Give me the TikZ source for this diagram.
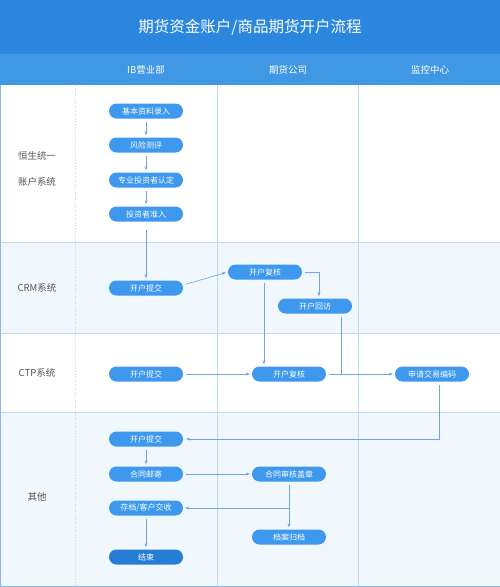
\documentclass[tikz,border=0pt]{standalone}
\usepackage{fontspec}
\setmainfont{Noto Sans CJK SC}
\usepackage{tikz}
\usetikzlibrary{arrows.meta,positioning,calc}
\definecolor{titlebar}{RGB}{43,135,221}
\definecolor{headbar}{RGB}{64,151,228}
\definecolor{stepfill}{RGB}{61,152,238}
\definecolor{endfill}{RGB}{38,125,212}
\definecolor{flowcol}{RGB}{110,165,228}
\definecolor{gridcol}{RGB}{190,218,242}
\definecolor{lanebg}{RGB}{240,247,253}
\definecolor{labelcol}{RGB}{85,85,85}
\tikzset{
  stepbox/.style={rounded corners=7.5pt,fill=stepfill,text=white,minimum width=74pt,
                  minimum height=15pt,inner sep=0pt,font=\fontsize{8}{9}\selectfont},
  endbox/.style={stepbox,fill=endfill},
  flow/.style={-{Stealth[length=4pt,width=3pt]},draw=flowcol,line width=.6pt,
               shorten <=3pt,shorten >=2pt},
  link/.style={draw=flowcol,line width=.6pt},
  grid/.style={draw=gridcol,line width=.6pt},
  lanelbl/.style={text=labelcol,font=\fontsize{9.5}{12}\selectfont,align=center},
  colhead/.style={text=white,font=\fontsize{9.5}{12}\selectfont},
}

\begin{document}
\begin{tikzpicture}[x=1pt,y=-1pt]
  \useasboundingbox (0,0) rectangle (500,587);
  % bars and lanes
  \fill[titlebar] (0,0) rectangle (500,54);
  \fill[headbar] (0,54) rectangle (500,85);
  \fill[lanebg] (0,242) rectangle (500,333);
  \fill[lanebg] (0,412) rectangle (500,586);
  \foreach \y in {242,333,412}{\draw[grid] (0,\y) -- (500,\y);}
  \draw[grid,dotted] (75,85) -- (75,586);
  \foreach \x in {217,358}{\draw[grid] (\x,85) -- (\x,586);}
  \draw[draw=flowcol!80,line width=1pt] (0.5,85) -- (0.5,586) -- (500,586);
  \node[text=white,font=\fontsize{15.5}{18}\selectfont] (title) at (250,27)
    {期货资金账户/商品期货开户流程};
  \node[colhead] (hib) at (146,70) {IB营业部};
  \node[colhead] (hfc) at (288,70) {期货公司};
  \node[colhead] (hmc) at (430,70) {监控中心};
  \node[lanelbl] (lhs) at (37,169) {恒生统一\\[14pt]账户系统};
  \node[lanelbl] (lcrm) at (37,288) {CRM系统};
  \node[lanelbl] (lctp) at (37,373) {CTP系统};
  \node[lanelbl] (loth) at (37,497) {其他};
  % steps
  \node[stepbox] (n1) at (146,111) {基本资料录入};
  \node[stepbox] (n2) at (146,145) {风险测评};
  \node[stepbox] (n3) at (146,180) {专业投资者认定};
  \node[stepbox] (n4) at (146,214) {投资者准入};
  \node[stepbox] (c1) at (146,288) {开户提交};
  \node[stepbox] (c2) at (265,272) {开户复核};
  \node[stepbox] (c3) at (315,306) {开户回访};
  \node[stepbox] (t1) at (146,374) {开户提交};
  \node[stepbox] (t2) at (289,374) {开户复核};
  \node[stepbox] (t3) at (432,374) {申请交易编码};
  \node[stepbox] (o1) at (146,439) {开户提交};
  \node[stepbox] (o2) at (146,474) {合同邮寄};
  \node[stepbox] (o3) at (146,508) {存档/客户交收};
  \node[endbox]  (o4) at (146,557) {结束};
  \node[stepbox] (o5) at (289,474) {合同审核盖章};
  \node[stepbox] (o6) at (289,537) {档案归档};
  % connectors
  \foreach \a/\b in {n1/n2,n2/n3,n3/n4,o1/o2,o3/o4}{\draw[flow] (\a) -- (\b);}
  \draw[flow,shorten <=8pt] (n4) -- (c1);
  \draw[flow] ([yshift=3pt]c1.east) -- (c2.west);
  \draw[flow] (c2.east) -| ([xshift=4pt]c3.north);
  \draw[flow] ([xshift=-1pt]c2.south) -- ([xshift=-1pt]c2.south |- t2.north);
  \coordinate (join) at ([xshift=26pt]c3.south |- t2.east);
  \draw[link,shorten <=3pt] ([xshift=26pt]c3.south) -- (join);
  \draw[flow] (t1) -- (t2);
  \draw[flow] (t2) -- (t3);
  \draw[flow,shorten >=3pt] ([xshift=7pt]t3.south) |- (o1.east);
  \draw[flow] (o2) -- (o5);
  \draw[flow] (o5) -- (o6);
  \coordinate (fork) at (o5.south |- o3.east);
  \draw[flow,shorten <=0pt] (fork) -- (o3.east);
\end{tikzpicture}
\end{document}
